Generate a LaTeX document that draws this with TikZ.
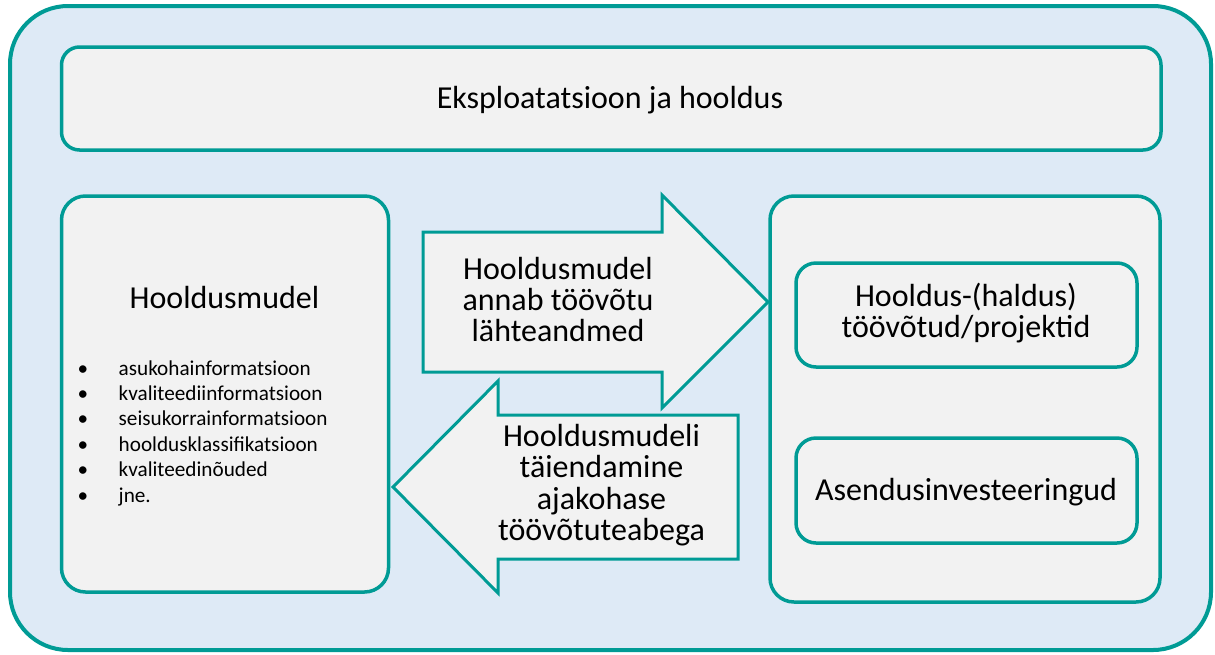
\documentclass[tikz,border=0pt]{standalone}
\usepackage{fontspec}
\setmainfont{Carlito}
\definecolor{tealline}{HTML}{009B95}
\definecolor{paleblue}{HTML}{DEEAF6}
\definecolor{panel}{HTML}{F2F2F2}
\newcommand{\txtstack}[1]{\begin{tabular}[t]{@{}c@{}}#1\end{tabular}}
\tikzset{
  panelbox/.style={draw=tealline, fill=panel, line width=3.5pt, rounded corners=#1, inner sep=0pt},
  panelbox/.default=20pt,
  blockarrow/.style={draw=tealline, fill=panel, line width=3pt, line join=miter},
  bigtext/.style={inner sep=0pt, font=\fontsize{32}{29.8}\selectfont},
  boxtext/.style={inner sep=0pt, font=\fontsize{32}{28.5}\selectfont},
  listtext/.style={inner sep=0pt, font=\fontsize{21.2}{25.4}\selectfont},
}
\begin{document}
\begin{tikzpicture}[x=1pt,y=-1pt]
\useasboundingbox (0,0) rectangle (1215,654);

% outer frame
\path[draw=tealline, fill=paleblue, line width=4pt, rounded corners=58pt]
  (10,6) rectangle (1211,650);

% panels
\node[panelbox=18pt, minimum width=1099.5pt, minimum height=103pt] (ops) at (611.25,98.5) {};
\node[panelbox=24pt, minimum width=327pt, minimum height=396pt] (model) at (225,394) {};
\node[panelbox=24pt, minimum width=390pt, minimum height=406pt] (works) at (965,399) {};
\node[panelbox=20pt, minimum width=341pt, minimum height=104pt] (contracts) at (966.5,315) {};
\node[panelbox=20pt, minimum width=341pt, minimum height=105pt] (invest) at (966.5,490.5) {};

% block arrows between the model panel and the works panel
\draw[blockarrow] (423,232) -- (662,232) -- (662,195) -- (768,302)
  -- (662,408) -- (662,372) -- (423,372) -- cycle;
\draw[blockarrow] (393,487) -- (498,381) -- (498,415) -- (738,415)
  -- (738,559) -- (498,559) -- (498,593) -- cycle;

% texts
\node[bigtext, anchor=base] (opstitle) at (610,108.3) {Eksploatatsioon ja hooldus};
\node[bigtext, anchor=base] (modeltitle) at (224.4,308.3) {Hooldusmudel};
\node[bigtext, anchor=base] (fwdtext) at (558,279)
  {\txtstack{Hooldusmudel\\annab töövõtu\\lähteandmed}};
\node[bigtext, anchor=base] (backtext) at (601.5,446.7)
  {\txtstack{Hooldusmudeli\\täiendamine\\ajakohase\\töövõtuteabega}};
\node[boxtext, anchor=base] (contractstext) at (966,306.7)
  {\txtstack{Hooldus-(haldus)\\töövõtud/projektid}};
\node[boxtext, anchor=base] (investtext) at (966,500) {Asendusinvesteeringud};

% bullet list
\foreach \item [count=\i from 0] in {asukohainformatsioon, kvaliteediinformatsioon,
  seisukorrainformatsioon, hooldusklassifikatsioon, kvaliteedinõuded, jne.} {
  \node[listtext, anchor=base] (dot\i) at (83,375+25.4*\i) {•};
  \node[listtext, anchor=base west] (item\i) at (118.5,375+25.4*\i) {\item};
}
\end{tikzpicture}
\end{document}
